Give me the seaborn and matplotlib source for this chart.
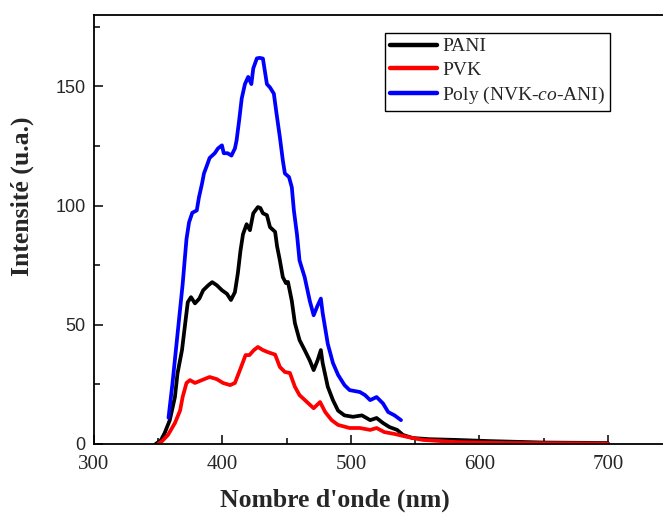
import numpy as np
import pandas as pd
import matplotlib
matplotlib.use("Agg")
import matplotlib.pyplot as plt
import seaborn as sns

# Emission spectra (wavelength in nm, intensity in arbitrary units)
pani_nm = [348, 352, 355, 359, 363, 365, 368.5, 371, 373, 375.5, 378.6, 382, 385, 389, 392, 395.6,
           399.6, 403.5, 406.6, 409.7, 412, 414, 416, 418.8, 421.4, 424, 427.6, 429.5, 431.5, 434.6, 437, 441,
           442.5, 444.7, 447, 449.4, 451, 454, 456.4, 460, 464, 468, 471, 474, 476.6, 478, 482, 486,
           490, 495, 501.6, 508.6, 515, 520, 525, 530, 536, 540.5, 548, 561, 582, 608, 650, 700]
pani_i = [0, 1.5, 4.6, 10, 19.7, 29.6, 39.4, 50.6, 59.5, 61.6, 59, 61, 64.5, 66.6, 67.9, 66.6,
          64.5, 63, 60.4, 63.7, 71.7, 81, 88, 92.2, 89.7, 96.8, 99.4, 99, 96.8, 96, 91, 89,
          83, 77, 70, 67.5, 68, 60, 50.7, 43.6, 39.4, 35, 31, 35, 39.4, 34, 24, 18.4,
          14, 12, 11.4, 12, 10, 10.9, 8.8, 7.1, 5.9, 3.8, 2.5, 2, 1.7, 1.2, 0.6, 0.4]

pvk_nm = [350, 353, 357.6, 363, 367, 369, 372, 374.7, 378.6, 384, 390, 395.6, 400.4, 406, 409.7, 413.6,
          418, 421, 424.5, 427.6, 431.5, 435, 441, 444.7, 448.6, 452.5, 456.4, 460, 465.8, 471, 476, 480,
          485, 490, 499, 507, 515, 520, 526, 534, 543.6, 556, 582, 620, 700]
pvk_i = [0, 1.2, 3.8, 8.8, 14, 19.7, 25.6, 26.8, 25.6, 26.8, 28.1, 27.2, 25.6, 24.7, 25.6, 31,
         37.3, 37.3, 39.4, 40.7, 39.4, 38.6, 37.5, 32.3, 30.2, 29.8, 24, 20.5, 17.6, 15, 17.6, 13.4,
         10, 8, 6.7, 6.7, 5.9, 6.7, 5, 4.2, 3, 1.7, 0.8, 0.4, 0.2]

copo_nm = [358, 361, 365, 369, 372, 374, 376.5, 380, 381.7, 384, 385.6, 388, 390, 394, 396.5, 399.6,
           401, 404, 407, 409.7, 411, 413, 415, 417.5, 420, 422.5, 424, 426.8, 429, 431.5, 434.6, 437,
           440, 442, 444.7, 447, 448.6, 451.8, 454, 455.6, 458, 460, 464, 468, 471, 474, 476.6, 478,
           482, 486, 490, 495, 499, 507, 511, 515, 520, 525, 529, 534, 539]
copo_i = [11, 25, 46, 67, 86, 93, 97, 98, 103.5, 109, 113.5, 117, 120, 122, 124, 125.3,
          122, 122, 121, 124, 127.4, 135.8, 145, 151, 154, 151, 157.6, 161.8, 162, 161.7, 151, 149.6,
          147, 139, 128.7, 119, 113.5, 112, 107.7, 98, 88, 77, 70, 60, 54, 58, 61, 55,
          42, 34, 29, 24.7, 22.6, 21.8, 20.5, 18.4, 19.7, 17, 13.4, 12, 10]

labels = ["PANI", "PVK", r"Poly (NVK-$\mathit{co}$-ANI)"]
colors = ["#000000", "#ff0000", "#0000ff"]

df = pd.concat([
    pd.DataFrame({"nm": pani_nm, "I": pani_i, "sample": labels[0]}),
    pd.DataFrame({"nm": pvk_nm, "I": pvk_i, "sample": labels[1]}),
    pd.DataFrame({"nm": copo_nm, "I": copo_i, "sample": labels[2]}),
], ignore_index=True)

sns.set_style("ticks")
plt.rcParams["font.family"] = ["Liberation Serif", "DejaVu Serif"]
plt.rcParams["mathtext.fontset"] = "custom"
plt.rcParams["mathtext.rm"] = "Liberation Serif"
plt.rcParams["mathtext.it"] = "Liberation Serif:italic"

fig = plt.figure(figsize=(6.63, 5.18), dpi=100)
ax = fig.add_axes([0.1418, 0.1429, 0.8718, 0.8282])

sns.lineplot(data=df, x="nm", y="I", hue="sample", hue_order=labels,
             palette=dict(zip(labels, colors)), sort=False, estimator=None,
             linewidth=2.7, ax=ax, legend=False)

ax.set_xlim(300, 750)
ax.set_ylim(0, 180)
ax.set_xticks([300, 400, 500, 600, 700])
ax.set_xticks([350, 450, 550, 650, 750], minor=True)
ax.set_yticks([0, 50, 100, 150])
ax.set_yticks([25, 75, 125, 175], minor=True)

for s in ax.spines.values():
    s.set_linewidth(1.3)
    s.set_color("black")

ax.tick_params(axis="both", which="major", direction="in", length=6.5, width=1.1,
               color="black", pad=6)
ax.tick_params(axis="x", which="major", pad=8)
ax.tick_params(axis="both", which="minor", direction="in", length=4.5, width=1.1, color="black")
ax.tick_params(top=False, right=False, which="both")

for t in ax.get_xticklabels():
    t.set_fontfamily(["Liberation Serif"])
    t.set_fontsize(15)
for t in ax.get_yticklabels():
    t.set_fontfamily(["Liberation Sans Narrow", "Liberation Sans"])
    t.set_fontsize(13)

ax.set_xlabel("Nombre d'onde (nm)", fontsize=18.5, fontweight="bold")
ax.set_ylabel("Intensité (u.a.)", fontsize=18.5, fontweight="bold")
ax.xaxis.set_label_coords(0.417, -0.103)
ax.yaxis.set_label_coords(-0.104, 0.578)

handles = [plt.Line2D([], [], color=c, lw=3.2) for c in colors]
leg = fig.legend(handles, labels, loc="upper left",
                 bbox_to_anchor=(385 / 663, 1 - 33 / 518), bbox_transform=fig.transFigure,
                 fontsize=14, frameon=True, fancybox=False, framealpha=1,
                 edgecolor="black", borderpad=0.25, labelspacing=0.3,
                 handlelength=2.4, handletextpad=0.3, borderaxespad=0)
leg.get_frame().set_linewidth(1.0)

fig.savefig("out.png", dpi=100)
